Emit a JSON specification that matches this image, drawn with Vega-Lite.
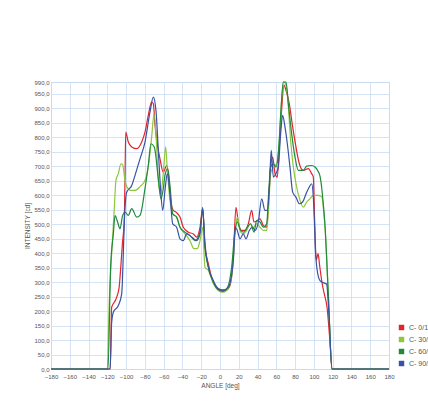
{
  "$schema": "https://vega.github.io/schema/vega-lite/v6.json",
  "width": 338,
  "height": 287,
  "autosize": "none",
  "padding": {"left": 51, "top": 82, "right": 39, "bottom": 35},
  "background": "white",
  "config": {
    "font": "Liberation Sans",
    "view": {"stroke": "#c6d9f0", "strokeWidth": 1},
    "axis": {"gridColor": "#c9dcf2", "gridWidth": 0.8, "gridOpacity": 1, "domain": false, "ticks": false, "labelColor": "#555555", "labelFontSize": 6, "titleColor": "#555555", "titleFontSize": 6.5, "titleFontWeight": "normal"}
  },
  "data": {"values": [
    {"s":"C- 0/180","a":-180,"i":0},{"s":"C- 0/180","a":-117,"i":0},{"s":"C- 0/180","a":-115.4,"i":213},{"s":"C- 0/180","a":-111,"i":240},{"s":"C- 0/180","a":-107.5,"i":280},{"s":"C- 0/180","a":-105.5,"i":360},{"s":"C- 0/180","a":-104,"i":430},{"s":"C- 0/180","a":-102,"i":512},{"s":"C- 0/180","a":-101.2,"i":650},{"s":"C- 0/180","a":-100.4,"i":817},{"s":"C- 0/180","a":-97.7,"i":783},{"s":"C- 0/180","a":-94,"i":766},{"s":"C- 0/180","a":-88.7,"i":760},{"s":"C- 0/180","a":-83.4,"i":783},{"s":"C- 0/180","a":-79.9,"i":817},{"s":"C- 0/180","a":-76.4,"i":875},{"s":"C- 0/180","a":-72.8,"i":921},{"s":"C- 0/180","a":-71,"i":915},{"s":"C- 0/180","a":-69.2,"i":840},{"s":"C- 0/180","a":-66.5,"i":770},{"s":"C- 0/180","a":-63.9,"i":725},{"s":"C- 0/180","a":-60.4,"i":679},{"s":"C- 0/180","a":-56.8,"i":702},{"s":"C- 0/180","a":-54.7,"i":668},{"s":"C- 0/180","a":-52.6,"i":582},{"s":"C- 0/180","a":-49.7,"i":547},{"s":"C- 0/180","a":-46.9,"i":541},{"s":"C- 0/180","a":-42.6,"i":524},{"s":"C- 0/180","a":-39.1,"i":489},{"s":"C- 0/180","a":-33.7,"i":472},{"s":"C- 0/180","a":-28.4,"i":466},{"s":"C- 0/180","a":-24.9,"i":455},{"s":"C- 0/180","a":-21.3,"i":489},{"s":"C- 0/180","a":-18.5,"i":553},{"s":"C- 0/180","a":-16,"i":420},{"s":"C- 0/180","a":-12.4,"i":363},{"s":"C- 0/180","a":-8.9,"i":317},{"s":"C- 0/180","a":-3.6,"i":282},{"s":"C- 0/180","a":1.8,"i":273},{"s":"C- 0/180","a":7.1,"i":273},{"s":"C- 0/180","a":10.6,"i":288},{"s":"C- 0/180","a":14.2,"i":386},{"s":"C- 0/180","a":17,"i":558},{"s":"C- 0/180","a":19.5,"i":507},{"s":"C- 0/180","a":23.1,"i":478},{"s":"C- 0/180","a":26.6,"i":478},{"s":"C- 0/180","a":30.2,"i":501},{"s":"C- 0/180","a":33.7,"i":547},{"s":"C- 0/180","a":36.2,"i":507},{"s":"C- 0/180","a":39.7,"i":512},{"s":"C- 0/180","a":42.6,"i":518},{"s":"C- 0/180","a":46.1,"i":495},{"s":"C- 0/180","a":49.7,"i":489},{"s":"C- 0/180","a":51.5,"i":558},{"s":"C- 0/180","a":53.9,"i":697},{"s":"C- 0/180","a":56.1,"i":731},{"s":"C- 0/180","a":58.6,"i":674},{"s":"C- 0/180","a":61,"i":662},{"s":"C- 0/180","a":63.2,"i":766},{"s":"C- 0/180","a":65.6,"i":892},{"s":"C- 0/180","a":68.1,"i":979},{"s":"C- 0/180","a":70.3,"i":961},{"s":"C- 0/180","a":73.8,"i":915},{"s":"C- 0/180","a":77.4,"i":835},{"s":"C- 0/180","a":80.9,"i":766},{"s":"C- 0/180","a":84.5,"i":708},{"s":"C- 0/180","a":88.7,"i":685},{"s":"C- 0/180","a":94.1,"i":691},{"s":"C- 0/180","a":97.6,"i":674},{"s":"C- 0/180","a":99.4,"i":662},{"s":"C- 0/180","a":100.8,"i":512},{"s":"C- 0/180","a":102.5,"i":375},{"s":"C- 0/180","a":104.5,"i":398},{"s":"C- 0/180","a":106,"i":360},{"s":"C- 0/180","a":108.6,"i":299},{"s":"C- 0/180","a":111,"i":260},{"s":"C- 0/180","a":114,"i":213},{"s":"C- 0/180","a":117,"i":100},{"s":"C- 0/180","a":119.3,"i":0},{"s":"C- 0/180","a":180,"i":0},

    {"s":"C- 30/210","a":-180,"i":0},{"s":"C- 30/210","a":-120,"i":0},{"s":"C- 30/210","a":-117.9,"i":236},{"s":"C- 30/210","a":-115.4,"i":397},{"s":"C- 30/210","a":-112.9,"i":535},{"s":"C- 30/210","a":-110.8,"i":651},{"s":"C- 30/210","a":-108.3,"i":674},{"s":"C- 30/210","a":-105.5,"i":708},{"s":"C- 30/210","a":-103.7,"i":705},{"s":"C- 30/210","a":-101.2,"i":651},{"s":"C- 30/210","a":-99.4,"i":630},{"s":"C- 30/210","a":-95,"i":616},{"s":"C- 30/210","a":-90.5,"i":616},{"s":"C- 30/210","a":-85,"i":630},{"s":"C- 30/210","a":-79.9,"i":650},{"s":"C- 30/210","a":-76.3,"i":700},{"s":"C- 30/210","a":-72.8,"i":800},{"s":"C- 30/210","a":-70.3,"i":878},{"s":"C- 30/210","a":-68.2,"i":812},{"s":"C- 30/210","a":-65.7,"i":651},{"s":"C- 30/210","a":-63.2,"i":604},{"s":"C- 30/210","a":-60.4,"i":674},{"s":"C- 30/210","a":-57.9,"i":766},{"s":"C- 30/210","a":-56.1,"i":685},{"s":"C- 30/210","a":-53.3,"i":582},{"s":"C- 30/210","a":-50.4,"i":535},{"s":"C- 30/210","a":-46.2,"i":524},{"s":"C- 30/210","a":-42.6,"i":489},{"s":"C- 30/210","a":-37.3,"i":466},{"s":"C- 30/210","a":-32,"i":443},{"s":"C- 30/210","a":-27.7,"i":415},{"s":"C- 30/210","a":-24.2,"i":415},{"s":"C- 30/210","a":-21.3,"i":443},{"s":"C- 30/210","a":-18.5,"i":489},{"s":"C- 30/210","a":-16,"i":351},{"s":"C- 30/210","a":-12.4,"i":340},{"s":"C- 30/210","a":-7.1,"i":294},{"s":"C- 30/210","a":-1.8,"i":271},{"s":"C- 30/210","a":2.8,"i":265},{"s":"C- 30/210","a":7.1,"i":271},{"s":"C- 30/210","a":12.4,"i":317},{"s":"C- 30/210","a":16,"i":466},{"s":"C- 30/210","a":18.4,"i":524},{"s":"C- 30/210","a":21.3,"i":478},{"s":"C- 30/210","a":24.8,"i":466},{"s":"C- 30/210","a":28.4,"i":478},{"s":"C- 30/210","a":31.9,"i":501},{"s":"C- 30/210","a":35.5,"i":489},{"s":"C- 30/210","a":39,"i":501},{"s":"C- 30/210","a":42.6,"i":489},{"s":"C- 30/210","a":46.1,"i":478},{"s":"C- 30/210","a":49.7,"i":478},{"s":"C- 30/210","a":51.8,"i":558},{"s":"C- 30/210","a":53.9,"i":674},{"s":"C- 30/210","a":56.8,"i":697},{"s":"C- 30/210","a":60.3,"i":708},{"s":"C- 30/210","a":63.2,"i":789},{"s":"C- 30/210","a":65.6,"i":927},{"s":"C- 30/210","a":68.1,"i":990},{"s":"C- 30/210","a":70.3,"i":979},{"s":"C- 30/210","a":72.8,"i":904},{"s":"C- 30/210","a":75.2,"i":789},{"s":"C- 30/210","a":78.1,"i":697},{"s":"C- 30/210","a":81.6,"i":628},{"s":"C- 30/210","a":85.2,"i":582},{"s":"C- 30/210","a":88.7,"i":558},{"s":"C- 30/210","a":92.3,"i":576},{"s":"C- 30/210","a":95.8,"i":587},{"s":"C- 30/210","a":99.4,"i":599},{"s":"C- 30/210","a":104.7,"i":599},{"s":"C- 30/210","a":108.6,"i":593},{"s":"C- 30/210","a":110.5,"i":540},{"s":"C- 30/210","a":111.8,"i":490},{"s":"C- 30/210","a":115.4,"i":256},{"s":"C- 30/210","a":119.3,"i":0},{"s":"C- 30/210","a":180,"i":0},

    {"s":"C- 60/240","a":-180,"i":0},{"s":"C- 60/240","a":-119.3,"i":0},{"s":"C- 60/240","a":-116.5,"i":351},{"s":"C- 60/240","a":-113.6,"i":466},{"s":"C- 60/240","a":-111.8,"i":529},{"s":"C- 60/240","a":-109,"i":506},{"s":"C- 60/240","a":-106.5,"i":484},{"s":"C- 60/240","a":-103.7,"i":530},{"s":"C- 60/240","a":-101.2,"i":541},{"s":"C- 60/240","a":-97.7,"i":530},{"s":"C- 60/240","a":-94,"i":553},{"s":"C- 60/240","a":-88.7,"i":524},{"s":"C- 60/240","a":-85.2,"i":530},{"s":"C- 60/240","a":-79.9,"i":622},{"s":"C- 60/240","a":-76.4,"i":702},{"s":"C- 60/240","a":-73.5,"i":777},{"s":"C- 60/240","a":-70,"i":766},{"s":"C- 60/240","a":-65.7,"i":656},{"s":"C- 60/240","a":-62.9,"i":587},{"s":"C- 60/240","a":-60.4,"i":622},{"s":"C- 60/240","a":-58.6,"i":668},{"s":"C- 60/240","a":-55.8,"i":690},{"s":"C- 60/240","a":-53.3,"i":633},{"s":"C- 60/240","a":-50.4,"i":535},{"s":"C- 60/240","a":-46.2,"i":524},{"s":"C- 60/240","a":-42.6,"i":489},{"s":"C- 60/240","a":-37.3,"i":472},{"s":"C- 60/240","a":-32,"i":461},{"s":"C- 60/240","a":-26.6,"i":443},{"s":"C- 60/240","a":-23.1,"i":455},{"s":"C- 60/240","a":-20.6,"i":489},{"s":"C- 60/240","a":-18.5,"i":558},{"s":"C- 60/240","a":-16,"i":420},{"s":"C- 60/240","a":-12.4,"i":351},{"s":"C- 60/240","a":-7.1,"i":299},{"s":"C- 60/240","a":-1.8,"i":273},{"s":"C- 60/240","a":2.8,"i":268},{"s":"C- 60/240","a":7.8,"i":280},{"s":"C- 60/240","a":12.4,"i":351},{"s":"C- 60/240","a":16,"i":478},{"s":"C- 60/240","a":18.4,"i":507},{"s":"C- 60/240","a":22,"i":478},{"s":"C- 60/240","a":25.5,"i":472},{"s":"C- 60/240","a":29.1,"i":489},{"s":"C- 60/240","a":32.6,"i":501},{"s":"C- 60/240","a":36.2,"i":472},{"s":"C- 60/240","a":39,"i":512},{"s":"C- 60/240","a":42.6,"i":507},{"s":"C- 60/240","a":46.1,"i":489},{"s":"C- 60/240","a":49.7,"i":501},{"s":"C- 60/240","a":51.8,"i":604},{"s":"C- 60/240","a":53.9,"i":697},{"s":"C- 60/240","a":56.8,"i":708},{"s":"C- 60/240","a":59.6,"i":697},{"s":"C- 60/240","a":62.4,"i":754},{"s":"C- 60/240","a":64.9,"i":892},{"s":"C- 60/240","a":67.4,"i":990},{"s":"C- 60/240","a":70.3,"i":990},{"s":"C- 60/240","a":72.8,"i":915},{"s":"C- 60/240","a":76.3,"i":812},{"s":"C- 60/240","a":79.9,"i":731},{"s":"C- 60/240","a":83.4,"i":685},{"s":"C- 60/240","a":88.7,"i":685},{"s":"C- 60/240","a":92.3,"i":700},{"s":"C- 60/240","a":97.6,"i":702},{"s":"C- 60/240","a":101.2,"i":697},{"s":"C- 60/240","a":104,"i":685},{"s":"C- 60/240","a":106.5,"i":665},{"s":"C- 60/240","a":108.5,"i":620},{"s":"C- 60/240","a":110,"i":570},{"s":"C- 60/240","a":111.5,"i":512},{"s":"C- 60/240","a":115.4,"i":256},{"s":"C- 60/240","a":119.3,"i":0},{"s":"C- 60/240","a":180,"i":0},

    {"s":"C- 90/270","a":-180,"i":0},{"s":"C- 90/270","a":-117,"i":0},{"s":"C- 90/270","a":-115.4,"i":160},{"s":"C- 90/270","a":-113.6,"i":196},{"s":"C- 90/270","a":-108.3,"i":219},{"s":"C- 90/270","a":-104.7,"i":259},{"s":"C- 90/270","a":-104,"i":299},{"s":"C- 90/270","a":-103,"i":397},{"s":"C- 90/270","a":-101.9,"i":506},{"s":"C- 90/270","a":-99.4,"i":610},{"s":"C- 90/270","a":-94,"i":633},{"s":"C- 90/270","a":-90.5,"i":668},{"s":"C- 90/270","a":-85.2,"i":725},{"s":"C- 90/270","a":-79.9,"i":783},{"s":"C- 90/270","a":-74.6,"i":886},{"s":"C- 90/270","a":-71,"i":938},{"s":"C- 90/270","a":-68.2,"i":892},{"s":"C- 90/270","a":-65.7,"i":754},{"s":"C- 90/270","a":-63.2,"i":616},{"s":"C- 90/270","a":-61,"i":547},{"s":"C- 90/270","a":-58.6,"i":616},{"s":"C- 90/270","a":-56.1,"i":674},{"s":"C- 90/270","a":-53.3,"i":604},{"s":"C- 90/270","a":-50.4,"i":501},{"s":"C- 90/270","a":-46.2,"i":489},{"s":"C- 90/270","a":-42.6,"i":449},{"s":"C- 90/270","a":-39.1,"i":443},{"s":"C- 90/270","a":-35.5,"i":466},{"s":"C- 90/270","a":-30.2,"i":455},{"s":"C- 90/270","a":-24.9,"i":443},{"s":"C- 90/270","a":-21.3,"i":466},{"s":"C- 90/270","a":-18.5,"i":553},{"s":"C- 90/270","a":-16,"i":432},{"s":"C- 90/270","a":-12.4,"i":351},{"s":"C- 90/270","a":-7.1,"i":305},{"s":"C- 90/270","a":-1.8,"i":276},{"s":"C- 90/270","a":3.5,"i":271},{"s":"C- 90/270","a":8.9,"i":282},{"s":"C- 90/270","a":14.2,"i":374},{"s":"C- 90/270","a":16.3,"i":489},{"s":"C- 90/270","a":18.4,"i":478},{"s":"C- 90/270","a":21.3,"i":449},{"s":"C- 90/270","a":24.8,"i":466},{"s":"C- 90/270","a":27.7,"i":449},{"s":"C- 90/270","a":31.2,"i":478},{"s":"C- 90/270","a":34.8,"i":489},{"s":"C- 90/270","a":37.3,"i":478},{"s":"C- 90/270","a":40.8,"i":507},{"s":"C- 90/270","a":44.4,"i":587},{"s":"C- 90/270","a":47.9,"i":547},{"s":"C- 90/270","a":50.4,"i":547},{"s":"C- 90/270","a":52.6,"i":628},{"s":"C- 90/270","a":54.6,"i":754},{"s":"C- 90/270","a":56.8,"i":662},{"s":"C- 90/270","a":59.6,"i":674},{"s":"C- 90/270","a":62.1,"i":697},{"s":"C- 90/270","a":64.6,"i":812},{"s":"C- 90/270","a":66.7,"i":875},{"s":"C- 90/270","a":69.2,"i":835},{"s":"C- 90/270","a":71.7,"i":777},{"s":"C- 90/270","a":74.5,"i":697},{"s":"C- 90/270","a":77.4,"i":610},{"s":"C- 90/270","a":80.9,"i":593},{"s":"C- 90/270","a":84.5,"i":570},{"s":"C- 90/270","a":88,"i":576},{"s":"C- 90/270","a":91.6,"i":604},{"s":"C- 90/270","a":95.1,"i":628},{"s":"C- 90/270","a":97.6,"i":639},{"s":"C- 90/270","a":99.4,"i":593},{"s":"C- 90/270","a":100.5,"i":512},{"s":"C- 90/270","a":101.5,"i":420},{"s":"C- 90/270","a":103.3,"i":345},{"s":"C- 90/270","a":106.5,"i":305},{"s":"C- 90/270","a":110,"i":298},{"s":"C- 90/270","a":113.5,"i":293},{"s":"C- 90/270","a":116,"i":190},{"s":"C- 90/270","a":119.3,"i":0},{"s":"C- 90/270","a":180,"i":0}
  ]},
  "mark": {"type": "line", "strokeWidth": 1.2, "interpolate": "monotone"},
  "encoding": {
    "x": {"field": "a", "type": "quantitative", "scale": {"domain": [-180, 180], "nice": false},
      "axis": {"values": [-180,-160,-140,-120,-100,-80,-60,-40,-20,0,20,40,60,80,100,120,140,160,180], "title": "ANGLE [deg]", "labelPadding": 4, "titlePadding": 3, "labelFlush": false}},
    "y": {"field": "i", "type": "quantitative", "scale": {"domain": [0, 990], "nice": false},
      "axis": {"values": [0,50,100,150,200,250,300,350,400,450,500,550,600,650,700,750,800,850,900,950,990], "title": "INTENSITY [cd]", "labelExpr": "replace(format(datum.value, '.1f'), '.', ',')", "labelPadding": 2, "titlePadding": 3, "labelFlush": false}},
    "color": {"field": "s", "type": "nominal",
      "scale": {"domain": ["C- 0/180", "C- 30/210", "C- 60/240", "C- 90/270"], "range": ["#e3242b", "#8dc63f", "#1f8a3c", "#3a52a3"]},
      "legend": {"title": null, "orient": "none", "legendX": 347, "legendY": 242, "symbolType": "square", "symbolSize": 6, "symbolStrokeWidth": 3, "labelFontSize": 7, "labelColor": "#555555", "rowPadding": -3, "padding": 0, "labelOffset": 4}}
  }
}
